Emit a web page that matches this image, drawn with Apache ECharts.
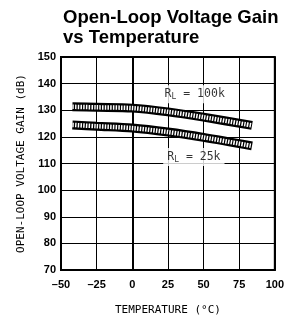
<!DOCTYPE html>
<html>
<head>
<meta charset="utf-8">
<style>html,body{margin:0;padding:0;background:#fff}#c{width:287px;height:321px}</style>
<script src="https://cdn.jsdelivr.net/npm/echarts@6/dist/echarts.min.js"></script>
</head>
<body>
<div id="c"></div>
<script>
var titleText = 'Open-Loop Voltage Gain\nvs Temperature';
var xName = 'TEMPERATURE (\u00B0C)';
var yName = 'OPEN-LOOP VOLTAGE GAIN (dB)';
var temps = [-42, -25, 0, 25, 50, 84];
var rl100k = [131.3, 131.1, 130.8, 129.4, 127.4, 124.3];
var rl25k = [124.5, 124.0, 123.3, 121.8, 119.8, 116.6];
var labelNames = ['100k', '25k'];
var labelTemps = [43.8, 43.2];
var labelValues = [136.0, 112.4];

function pairs(xs, ys){ return xs.map(function(x,i){ return [x, ys[i]]; }); }

function band(ys){
  return [
    {type:'line', data:pairs(temps, ys), symbol:'none', smooth:0.3, silent:true,
     lineStyle:{color:'#000', width:9, cap:'butt'}, z:3},
    {type:'line', data:pairs(temps, ys), symbol:'none', smooth:0.3, silent:true,
     lineStyle:{color:'#fff', width:4.5, type:[1.5,1.2], cap:'butt'}, z:4}
  ];
}

var chart = echarts.init(document.getElementById('c'), null, {renderer:'canvas'});
var series = [].concat(band(rl100k), band(rl25k));
series.push({
  type:'scatter', symbolSize:0, silent:true, z:5,
  data: labelTemps.map(function(t,i){ return {value:[t, labelValues[i]], name:labelNames[i]}; }),
  label:{
    show:true, position:'inside',
    formatter:function(p){ return '{r|R}{s|L}{r| = ' + p.name + '}'; },
    backgroundColor:'#fff', padding:[2,4,2,4],
    rich:{
      r:{fontFamily:'DejaVu Sans Mono', fontSize:11.5, color:'#000'},
      s:{fontFamily:'DejaVu Sans Mono', fontSize:8, color:'#000', verticalAlign:'bottom', padding:[6,0,0,0]}
    }
  }
});

chart.setOption({
  animation:false,
  backgroundColor:'#fff',
  title:{text:titleText, left:58, top:3,
    textStyle:{fontFamily:'Liberation Sans', fontWeight:'bold', fontSize:18.5, lineHeight:20, color:'#000'}},
  grid:{left:61, right:11, top:57, bottom:51, show:true, borderColor:'#000', borderWidth:2, backgroundColor:'transparent'},
  xAxis:{type:'value', min:-50, max:100, interval:25,
    name:xName, nameLocation:'middle', nameGap:35,
    nameTextStyle:{fontFamily:'DejaVu Sans Mono', fontSize:11, color:'#000'},
    axisLine:{show:true, lineStyle:{color:'#000', width:2}},
    axisTick:{show:false},
    splitLine:{show:true, lineStyle:{color:'#000', width:1}},
    axisLabel:{fontFamily:'Liberation Sans', fontWeight:'bold', fontSize:11, color:'#000', margin:9,
      formatter:function(v){ return String(v).replace('-', '\u2013'); }}
  },
  yAxis:{type:'value', min:70, max:150, interval:10,
    name:yName, nameLocation:'middle', nameGap:32, nameRotate:90,
    nameTextStyle:{fontFamily:'DejaVu Sans Mono', fontSize:11, color:'#000'},
    axisLine:{show:true, lineStyle:{color:'#000', width:2}},
    axisTick:{show:false},
    splitLine:{show:true, lineStyle:{color:'#000', width:1}},
    axisLabel:{fontFamily:'Liberation Sans', fontWeight:'bold', fontSize:11, color:'#000', margin:5}
  },
  series:series
});
</script>
</body>
</html>
